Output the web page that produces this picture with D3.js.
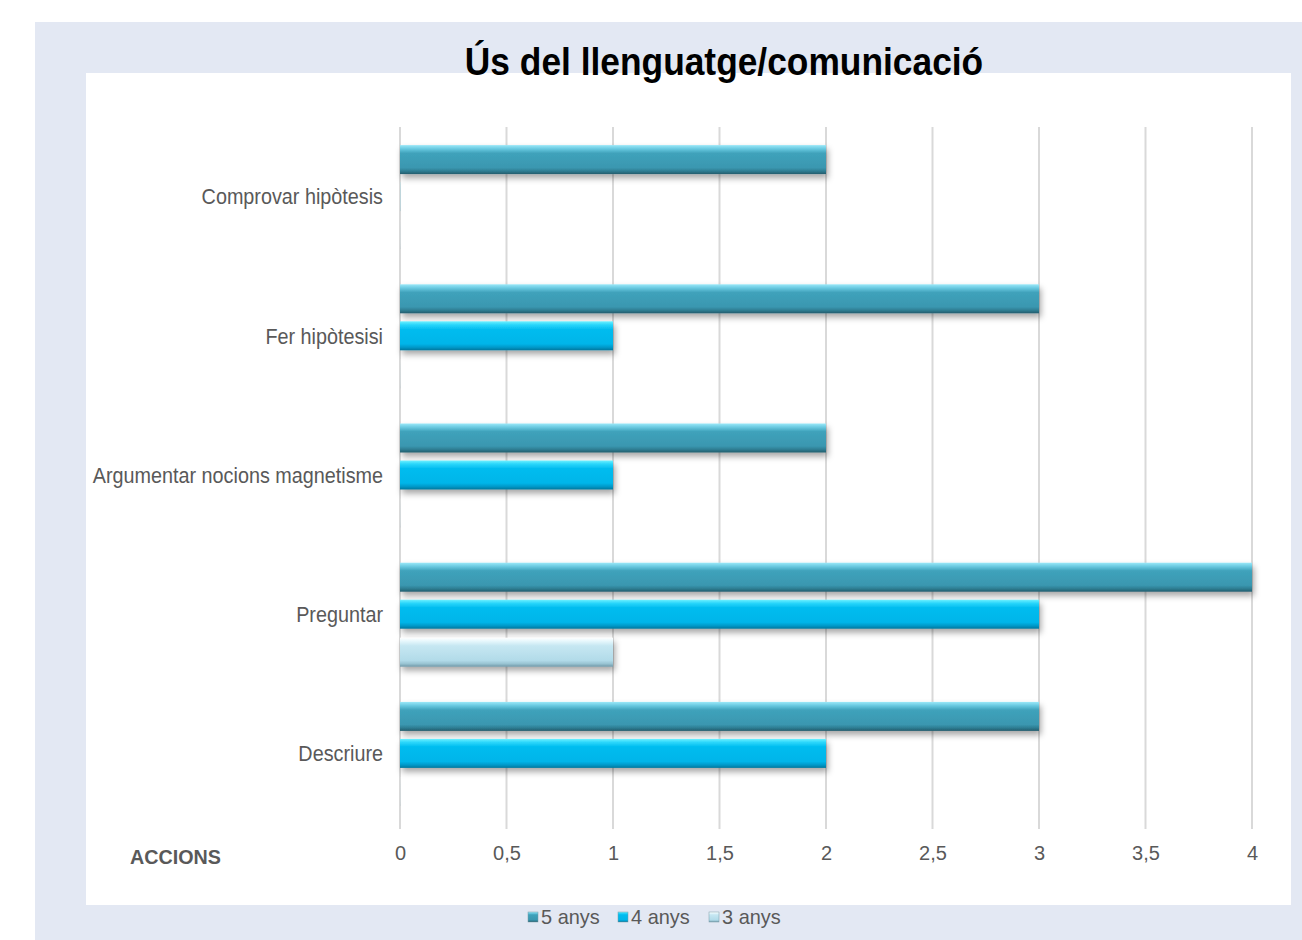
<!DOCTYPE html>
<html>
<head>
<meta charset="utf-8">
<script src="https://cdn.jsdelivr.net/npm/d3@7"></script>
<style>
  body { margin: 0; background: #fff; }
  svg text { font-family: "Liberation Sans Narrow", "Arial Narrow", "Liberation Sans", Arial, sans-serif; }
</style>
</head>
<body>
<script>
// Data
let categories = ["Comprovar hipòtesis", "Fer hipòtesisi", "Argumentar nocions magnetisme", "Preguntar", "Descriure"];
let seriesNames = ["5 anys", "4 anys", "3 anys"];
let anys5 = [2, 3, 2, 4, 3];
let anys4 = [0, 1, 1, 3, 2];
let anys3 = [0, 0, 0, 1, 0];
let tickValues = [0, 0.5, 1, 1.5, 2, 2.5, 3, 3.5, 4];

let seriesValues = [anys5, anys4, anys3];

// Dimensions
let svgWidth = 1302;
let svgHeight = 940;

let svg = d3.select("body")
    .append("svg")
    .attr("width", svgWidth)
    .attr("height", svgHeight);

// Gradients for the bevelled bars
let defs = svg.append("defs");
let gradStops = [
    [["0%", "#9be8f8"], ["12%", "#6ccbe2"], ["28%", "#3fa2bb"], ["78%", "#3a97b0"], ["90%", "#2e7c91"], ["100%", "#235c6c"]],
    [["0%", "#6ef0ff"], ["12%", "#2ad6fb"], ["28%", "#00bcef"], ["78%", "#00b5e9"], ["90%", "#0098c8"], ["100%", "#00779c"]],
    [["0%", "#ffffff"], ["12%", "#e6f7fc"], ["28%", "#c6e7f2"], ["78%", "#b2dbe9"], ["90%", "#98c3d2"], ["100%", "#6f97a6"]]
];
gradStops.forEach(function(stops, i) {
    let g = defs.append("linearGradient")
        .attr("id", "grad" + i)
        .attr("x1", 0).attr("y1", 0).attr("x2", 0).attr("y2", 1);
    stops.forEach(function(s) {
        g.append("stop").attr("offset", s[0]).attr("stop-color", s[1]);
    });
});

let shadow = defs.append("filter").attr("id", "shadow")
    .attr("x", "-5%").attr("y", "-30%").attr("width", "110%").attr("height", "180%");
shadow.append("feDropShadow")
    .attr("dx", 2).attr("dy", 4).attr("stdDeviation", 3)
    .attr("flood-color", "#000").attr("flood-opacity", 0.35);

// Background panels
svg.append("rect")
    .attr("x", 35).attr("y", 22)
    .attr("width", 1267).attr("height", 918)
    .attr("fill", "#e3e8f3");
svg.append("rect")
    .attr("x", 86).attr("y", 73)
    .attr("width", 1205).attr("height", 832)
    .attr("fill", "#ffffff");

// helper: narrow text by horizontal squeeze
function narrowText(sel, x, y, scale) {
    return sel.append("g")
        .attr("transform", `translate(${x}, ${y}) scale(${scale}, 1)`)
        .append("text");
}

// Title
narrowText(svg, 724, 75, 0.93)
    .attr("text-anchor", "middle")
    .attr("font-size", 38)
    .attr("font-weight", "bold")
    .attr("fill", "#000")
    .text("Ús del llenguatge/comunicació");

// Plot area
let plotLeft = 400, plotRight = 1252, plotTop = 127, plotBottom = 823;

let xScale = d3.scaleLinear()
    .domain([0, 4])
    .range([plotLeft, plotRight]);

let yScale = d3.scaleBand()
    .domain(categories)
    .range([plotTop, plotBottom]);

let offsets = [-37, 0, 38];
let barHeight = 29;

// Gridlines
svg.append("g")
    .selectAll("line")
    .data(tickValues)
    .enter()
    .append("line")
    .attr("x1", d => xScale(d))
    .attr("x2", d => xScale(d))
    .attr("y1", plotTop)
    .attr("y2", plotBottom + 6)
    .attr("stroke", "#d9d9d9")
    .attr("stroke-width", 2);

// X axis labels
let xAxis = d3.axisBottom(xScale)
    .tickValues(tickValues)
    .tickSize(0)
    .tickPadding(0)
    .tickFormat(d => String(d).replace(".", ","));

let xAxisG = svg.append("g")
    .attr("transform", `translate(0, ${plotBottom + 20})`)
    .call(xAxis);
xAxisG.select(".domain").remove();
xAxisG.selectAll("text")
    .attr("font-size", 20)
    .attr("fill", "#595959")
    .attr("dy", "0.85em")
    .style("font-family", '"Liberation Sans Narrow", "Arial Narrow", Arial, sans-serif');

// Category labels
categories.forEach(function(c) {
    narrowText(svg, 383, yScale(c) + yScale.bandwidth() / 2, 0.9)
        .attr("dy", "0.35em")
        .attr("text-anchor", "end")
        .attr("font-size", 22)
        .attr("fill", "#595959")
        .text(c);
});

// Bars
seriesValues.forEach(function(values, si) {
    svg.append("g")
        .selectAll("rect")
        .data(values)
        .enter()
        .append("rect")
        .attr("x", xScale(0))
        .attr("y", (d, i) => yScale(categories[i]) + yScale.bandwidth() / 2 + offsets[si] - barHeight / 2)
        .attr("width", d => Math.max(xScale(d) - xScale(0), 1))
        .attr("height", barHeight)
        .attr("fill", `url(#grad${si})`)
        .attr("filter", d => d > 0 ? "url(#shadow)" : null)
        .attr("opacity", d => d > 0 ? 1 : 0.12);
});

// Axis title
narrowText(svg, 130, 864, 0.94)
    .attr("font-size", 21)
    .attr("font-weight", "bold")
    .attr("fill", "#595959")
    .text("ACCIONS");

// Legend
let legendItems = [
    { name: seriesNames[0], x: 528 },
    { name: seriesNames[1], x: 618 },
    { name: seriesNames[2], x: 709 }
];
legendItems.forEach(function(item, i) {
    svg.append("rect")
        .attr("x", item.x)
        .attr("y", 912)
        .attr("width", 10)
        .attr("height", 10)
        .attr("fill", `url(#grad${i})`)
        .attr("stroke", "#7a9aa6")
        .attr("stroke-width", 0.5);
    narrowText(svg, item.x + 13, 917, 0.95)
        .attr("dy", "0.35em")
        .attr("font-size", 21)
        .attr("fill", "#595959")
        .text(item.name);
});
</script>
</body>
</html>
